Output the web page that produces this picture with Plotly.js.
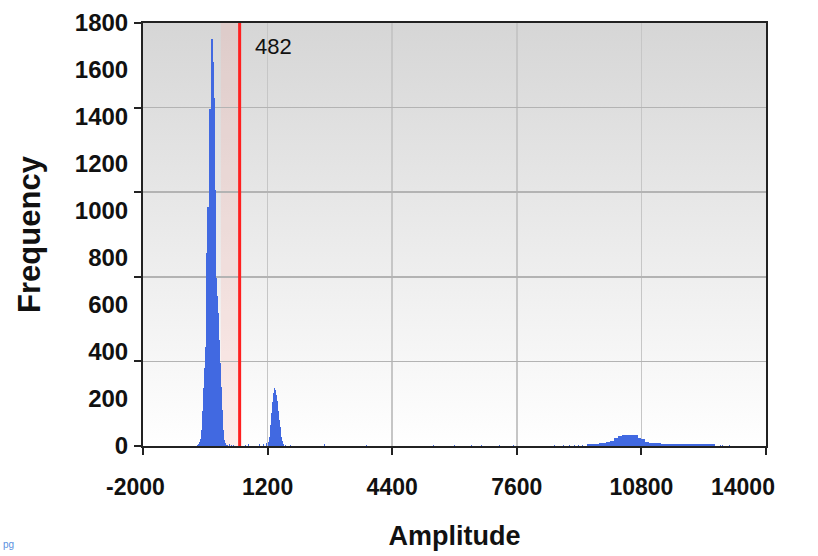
<!DOCTYPE html>
<html>
<head>
<meta charset="utf-8">
<script src="https://cdn.plot.ly/plotly-3.0.1.min.js"></script>
<style>
  html, body { margin: 0; padding: 0; background: #ffffff; }
  #chart { width: 818px; height: 556px; }
</style>
</head>
<body>
<div id="chart"></div>
<script>
// ---- data ----
// fine histogram bins (amplitude bin centres) and their frequencies
const binCenters = [
  -625, -600, -575, -550, -525, -500, -475, -450, -425, -400,
  -375, -350, -325, -300, -275, -250, -225, -200, -175, -150,
  -125, -100, -75, -50, -25, 0, 25, 50, 75, 100,
  125, 150, 175, 225, 275, 325, 625, 700, 825, 1000,
  1100, 1175,
  1225, 1250, 1275, 1300, 1325, 1350, 1375, 1400, 1425, 1450,
  1475, 1500, 1525, 1550, 1575, 1600, 1650,
  1800, 2650, 3750, 5450, 6000, 6425, 6700, 7150, 7525, 8575,
  8800, 8950, 9075, 9175, 9275, 12825, 12875, 13050
];
const binCounts = [
  2, 4, 8, 17, 30, 68, 150, 247, 330, 421,
  821, 1017, 1017, 1434, 1434, 1732, 1732, 1634, 1481, 1089,
  900, 715, 640, 566, 450, 353, 250, 153, 70, 25,
  12, 6, 4, 8, 6, 5, 6, 8, 6, 8,
  9, 12,
  15, 40, 90, 140, 187, 225, 247, 240, 215, 193,
  150, 110, 80, 38, 20, 8, 4,
  3, 7, 5, 5, 5, 5, 5, 5, 5, 5,
  5, 5, 5, 5, 6, 6, 5, 5
];
// coarse bins for the broad high-amplitude hump
const humpCenters = [
  9450, 9550, 9650, 9750, 9850, 9950, 10050, 10150, 10250, 10350,
  10450, 10550, 10650, 10750, 10850, 10950, 11050, 11150, 11250, 11350,
  11450, 11550, 11650, 11750, 11850, 11950, 12050, 12150, 12250, 12350,
  12450, 12550, 12650
];
const humpCounts = [
  9, 10, 10, 11, 11, 15, 22, 36, 44, 46,
  48, 47, 45, 32, 28, 17, 13, 11, 11, 10,
  10, 10, 10, 10, 10, 9, 9, 9, 9, 8,
  8, 8, 7
];
const threshold = 482;
const xTickVals = [-2000, 1200, 4400, 7600, 10800, 14000];
const yTickVals = [0, 200, 400, 600, 800, 1000, 1200, 1400, 1600, 1800];

// ---- background gradient ----
const gradSvg = '<svg xmlns="http://www.w3.org/2000/svg" width="10" height="100" preserveAspectRatio="none">' +
  '<defs><linearGradient id="g" x1="0" y1="0" x2="0" y2="1">' +
  '<stop offset="0" stop-color="#d6d6d6"/><stop offset="1" stop-color="#ffffff"/>' +
  '</linearGradient></defs><rect width="10" height="100" fill="url(#g)"/></svg>';
const gradSrc = 'data:image/svg+xml;charset=utf-8,' + encodeURIComponent(gradSvg);

const FONT = 'Liberation Sans, Arial, sans-serif';
const BLUE = '#4169e1';
const TICKFONT_X = { family: FONT, size: 23, weight: 'bold', color: '#111111' };
const TICKFONT_Y = { family: FONT, size: 24, weight: 'bold', color: '#111111' };

const traces = [
  {
    type: 'bar', x: binCenters, y: binCounts, width: 25,
    marker: { color: BLUE, line: { width: 0 } },
    hoverinfo: 'skip', showlegend: false
  },
  {
    type: 'bar', x: humpCenters, y: humpCounts, width: 100,
    marker: { color: BLUE, line: { width: 0 } },
    hoverinfo: 'skip', showlegend: false
  },
  {
    type: 'scatter', x: [null], y: [null], yaxis: 'y2', mode: 'markers',
    hoverinfo: 'skip', showlegend: false
  }
];

// inner x tick labels come from the axis; the two end labels are pulled inward as in the reference
const lastIdx = xTickVals.length - 1;
const xTickText = xTickVals.map((v, i) => (i === 0 || i === lastIdx) ? '' : String(v));

const layout = {
  width: 818, height: 556,
  margin: { l: 143, r: 52, t: 23, b: 110, pad: 0 },
  paper_bgcolor: '#ffffff',
  plot_bgcolor: '#ffffff',
  bargap: 0,
  barmode: 'overlay',
  showlegend: false,
  font: { family: FONT, color: '#111111' },
  xaxis: {
    range: [-2000, 14000],
    tickvals: xTickVals,
    ticktext: xTickText,
    ticks: 'outside', ticklen: 7, tickwidth: 2, tickcolor: '#222222',
    showgrid: true, gridcolor: '#c6c6c6', gridwidth: 1.5,
    zeroline: false,
    showline: true, linecolor: '#222222', linewidth: 2, mirror: true,
    tickfont: TICKFONT_X,
    ticklabelstandoff: 12,
    title: { text: 'Amplitude', font: { family: FONT, size: 27, weight: 'bold', color: '#111111' }, standoff: 28 }
  },
  yaxis: {
    range: [0, 1800],
    tickvals: yTickVals,
    ticktext: yTickVals.map(String),
    ticks: '',
    showgrid: false, zeroline: false,
    showline: true, linecolor: '#222222', linewidth: 2, mirror: true,
    tickfont: TICKFONT_Y,
    ticklabelstandoff: 8,
    title: { text: 'Frequency', font: { family: FONT, size: 31, weight: 'bold', color: '#111111' }, standoff: 25 }
  },
  yaxis2: {
    overlaying: 'y', side: 'left',
    range: [0, 1800], tick0: 0, dtick: 360,
    ticks: 'outside', ticklen: 8, tickwidth: 2, tickcolor: '#222222',
    showticklabels: false,
    showgrid: true, gridcolor: '#b3b3b3', gridwidth: 1.5,
    zeroline: false, showline: false
  },
  images: [{
    source: gradSrc, xref: 'paper', yref: 'paper',
    x: 0, y: 1, sizex: 1, sizey: 1, xanchor: 'left', yanchor: 'top',
    sizing: 'stretch', layer: 'below'
  }],
  shapes: [
    {
      type: 'rect', xref: 'x', yref: 'paper', x0: 0, x1: threshold, y0: 0, y1: 1,
      fillcolor: 'rgba(250,170,160,0.22)', line: { width: 0 }, layer: 'between'
    },
    {
      type: 'line', xref: 'x', yref: 'paper', x0: threshold, x1: threshold, y0: 0, y1: 1,
      line: { color: '#ff1f1f', width: 3 }, layer: 'above'
    }
  ],
  annotations: [
    {
      xref: 'x', yref: 'paper', x: xTickVals[0], y: 0, xanchor: 'center', yanchor: 'top',
      xshift: -8, yshift: -26, text: String(xTickVals[0]), showarrow: false, font: TICKFONT_X
    },
    {
      xref: 'x', yref: 'paper', x: xTickVals[lastIdx], y: 0, xanchor: 'center', yanchor: 'top',
      xshift: -23, yshift: -26, text: String(xTickVals[lastIdx]), showarrow: false, font: TICKFONT_X
    },
    {
      xref: 'x', yref: 'paper', x: threshold, y: 0.945, xanchor: 'left', yanchor: 'middle',
      xshift: 13, text: String(threshold), showarrow: false,
      font: { family: FONT, size: 22, color: '#111111' }
    },
    {
      xref: 'paper', yref: 'paper', x: -0.228, y: -0.232, xanchor: 'left', yanchor: 'middle',
      text: 'pg', showarrow: false,
      font: { family: FONT, size: 10, color: '#5b8fe0' }
    }
  ]
};

Plotly.newPlot('chart', traces, layout, { staticPlot: true, displayModeBar: false });
</script>
</body>
</html>
